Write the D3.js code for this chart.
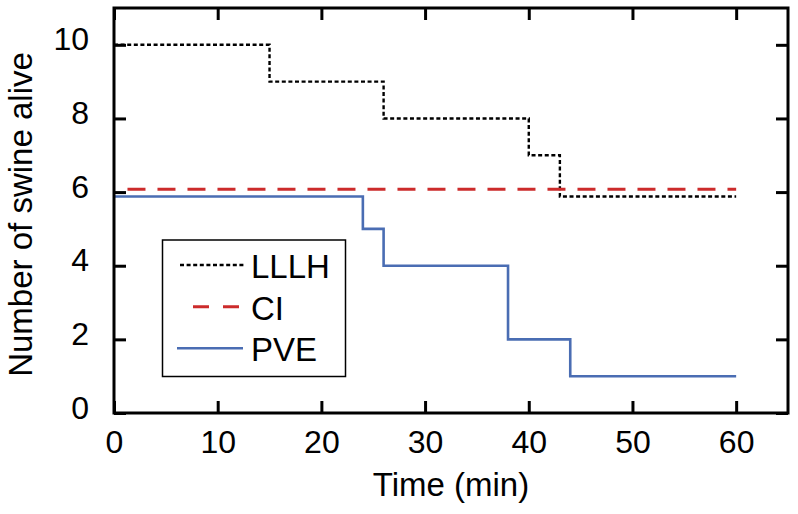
<!DOCTYPE html>
<html>
<head>
<meta charset="utf-8">
<script src="https://cdn.jsdelivr.net/npm/d3@7"></script>
<style>
  html, body { margin: 0; padding: 0; background: #fff; }
  svg { display: block; }
  text { font-family: "Liberation Sans", Arial, Helvetica, sans-serif; fill: #000; }
</style>
</head>
<body>
<svg id="chart" width="798" height="514"></svg>
<script>
// ---- data ----
const seriesNames = ["LLLH", "CI", "PVE"];
const lllhTime  = [0, 15, 26, 40, 43, 60];
const lllhAlive = [10, 9, 8, 7, 5.88, 5.88];
const ciTime    = [1.3, 60];
const ciAlive   = [6.08, 6.08];
const pveTime   = [0, 24, 26, 38, 44, 60];
const pveAlive  = [5.88, 5, 4, 2, 1, 1];
const xTicks = [0, 10, 20, 30, 40, 50, 60];
const yTicks = [0, 2, 4, 6, 8, 10];
const xLabel = "Time (min)";
const yLabel = "Number of swine alive";

(function () {
// ---- layout ----
const svg = d3.select("#chart");
const L = 114, R = 788, T = 8, B = 413;
const x = d3.scaleLinear().domain([0, 65]).range([L, R]);
const y = d3.scaleLinear().domain([0, 11]).range([B, T]);
const tickLen = 12;

const styles = {
  LLLH: { color: "#000000", width: 2.4, dash: "4,2.6" },
  CI:   { color: "#cc2b2b", width: 3,   dash: "18,12" },
  PVE:  { color: "#4a6db3", width: 2.6, dash: null }
};

const line = d3.line().x(d => x(d[0])).y(d => y(d[1])).curve(d3.curveStepAfter);
const series = [
  { name: "LLLH", pts: d3.zip(lllhTime, lllhAlive) },
  { name: "CI",   pts: d3.zip(ciTime, ciAlive) },
  { name: "PVE",  pts: d3.zip(pveTime, pveAlive) }
];

series.forEach(s => {
  const st = styles[s.name];
  svg.append("path")
    .attr("d", line(s.pts))
    .attr("fill", "none")
    .attr("stroke", st.color)
    .attr("stroke-width", st.width)
    .attr("stroke-dasharray", st.dash);
});

const fs = 32;
const gBottom = svg.append("g").attr("transform", `translate(0,${B})`)
  .call(d3.axisBottom(x).tickValues(xTicks).tickSize(-tickLen).tickFormat(d3.format("d")));
const gTop = svg.append("g").attr("transform", `translate(0,${T})`)
  .call(d3.axisTop(x).tickValues(xTicks).tickSize(-tickLen).tickFormat(""));
const gLeft = svg.append("g").attr("transform", `translate(${L},0)`)
  .call(d3.axisLeft(y).tickValues(yTicks).tickSize(-tickLen).tickFormat(d3.format("d")));
const gRight = svg.append("g").attr("transform", `translate(${R},0)`)
  .call(d3.axisRight(y).tickValues(yTicks).tickSize(-tickLen).tickFormat(""));

[gBottom, gTop, gLeft, gRight].forEach(g => {
  g.select(".domain").remove();
  g.selectAll(".tick line").attr("stroke", "#000").attr("stroke-width", 3);
  g.selectAll(".tick text").attr("font-size", fs).attr("font-family", "Liberation Sans, Arial, sans-serif").attr("fill", "#000");
});
gBottom.selectAll(".tick text").attr("dy", null).attr("y", 453 - B);
gLeft.selectAll(".tick text").attr("dy", null).attr("x", 89 - L).attr("y", 5);

svg.append("rect")
  .attr("x", L).attr("y", T).attr("width", R - L).attr("height", B - T)
  .attr("fill", "none").attr("stroke", "#000").attr("stroke-width", 3);

svg.append("text")
  .attr("x", (L + R) / 2).attr("y", 496)
  .attr("text-anchor", "middle").attr("font-size", 33)
  .text(xLabel);
svg.append("text")
  .attr("transform", `translate(32,${(T + B) / 2 + 4}) rotate(-90)`)
  .attr("text-anchor", "middle").attr("font-size", 33)
  .text(yLabel);

const lg = svg.append("g");
lg.append("rect").attr("x", 162.5).attr("y", 240).attr("width", 183).attr("height", 136.5)
  .attr("fill", "#fff").attr("stroke", "#000").attr("stroke-width", 1.5);
const rowY = [265, 306.7, 348.3];
const legLine = { LLLH: [180, 245], CI: [193, 241], PVE: [177, 243] };
seriesNames.forEach((n, i) => {
  const st = styles[n];
  lg.append("line")
    .attr("x1", legLine[n][0]).attr("x2", legLine[n][1])
    .attr("y1", rowY[i]).attr("y2", rowY[i])
    .attr("stroke", st.color).attr("stroke-width", st.width)
    .attr("stroke-dasharray", n === "CI" ? "16,14" : st.dash);
  lg.append("text")
    .attr("x", 251).attr("y", rowY[i] + 13)
    .attr("font-size", 33)
    .text(n);
});
})();
</script>
</body>
</html>
